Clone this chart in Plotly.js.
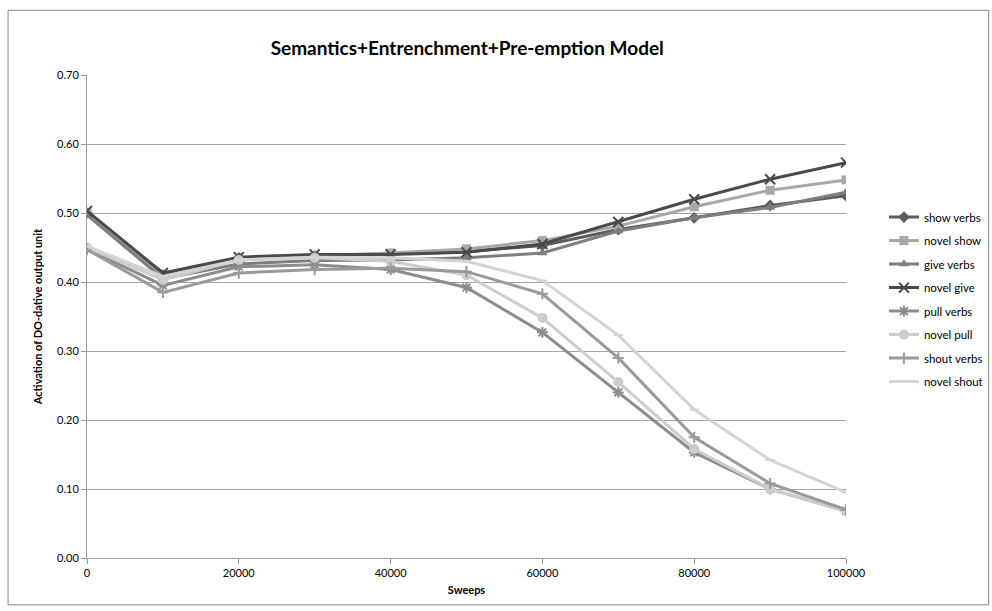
<!DOCTYPE html>
<html>
<head>
<meta charset="utf-8">
<script src="https://cdn.plot.ly/plotly-3.0.1.min.js"></script>
<style>html,body{margin:0;padding:0;background:#fff;}#chart{width:992px;height:611px;}</style>
</head>
<body>
<div id="chart"></div>
<script>
const sweeps = [0, 10000, 20000, 30000, 40000, 50000, 60000, 70000, 80000, 90000, 100000];
const showVerbs  = [0.500, 0.410, 0.435, 0.438, 0.440, 0.444, 0.453, 0.476, 0.493, 0.511, 0.525];
const novelShow  = [0.500, 0.408, 0.432, 0.438, 0.442, 0.448, 0.460, 0.481, 0.509, 0.533, 0.548];
const giveVerbs  = [0.497, 0.405, 0.426, 0.431, 0.432, 0.435, 0.442, 0.474, 0.493, 0.508, 0.530];
const novelGive  = [0.503, 0.413, 0.436, 0.440, 0.440, 0.443, 0.455, 0.487, 0.520, 0.549, 0.573];
const pullVerbs  = [0.448, 0.395, 0.422, 0.425, 0.418, 0.392, 0.327, 0.240, 0.153, 0.100, 0.068];
const novelPull  = [0.450, 0.403, 0.432, 0.435, 0.430, 0.410, 0.348, 0.255, 0.158, 0.100, 0.068];
const shoutVerbs = [0.447, 0.385, 0.413, 0.418, 0.420, 0.415, 0.383, 0.290, 0.175, 0.108, 0.070];
const novelShout = [0.452, 0.408, 0.432, 0.436, 0.435, 0.430, 0.402, 0.323, 0.215, 0.142, 0.095];
const seriesNames = ["show verbs", "novel show", "give verbs", "novel give", "pull verbs", "novel pull", "shout verbs", "novel shout"];
const yTicks = [0, 0.1, 0.2, 0.3, 0.4, 0.5, 0.6, 0.7];
const xTicks = [0, 20000, 40000, 60000, 80000, 100000];

const seriesData = [showVerbs, novelShow, giveVerbs, novelGive, pullVerbs, novelPull, shoutVerbs, novelShout];
const colors = ["#5c5c5c", "#a8a8a8", "#7e7e7e", "#4a4a4a", "#8c8c8c", "#cccccc", "#9a9a9a", "#d4d4d4"];
const symbols = ["diamond", "square", "triangle-up", "x-thin-open", "asterisk-open", "circle", "cross-thin-open", "line-ew-open"];
const sizes = [9, 9, 9, 10, 9, 10, 8, 7];

const traces = seriesData.map((ys, i) => {
  const open = symbols[i].endsWith("open");
  return {
    x: sweeps, y: ys, name: seriesNames[i], type: "scatter", mode: "lines+markers",
    legendgroup: "g" + i,
    line: {color: colors[i], width: 3},
    marker: {symbol: symbols[i], size: sizes[i], color: colors[i],
             line: {color: colors[i], width: open ? 2 : 0}}
  };
});

const layout = {
  width: 992, height: 611,
  paper_bgcolor: "#fff", plot_bgcolor: "#fff",
  margin: {l: 87, r: 146, t: 75, b: 53, autoexpand: false},
  title: {text: "Semantics+Entrenchment+Pre-emption Model", x: 0.471, xanchor: "center", y: 0.921, yanchor: "middle",
          font: {family: "Lato, 'Open Sans', sans-serif", size: 19, color: "#000", weight: "bold"}},
  font: {family: "Lato, 'Open Sans', sans-serif", size: 11, color: "#000"},
  xaxis: {range: [0, 100000], tickvals: xTicks, ticktext: xTicks.map(String),
          showgrid: false, zeroline: false, showline: true, linecolor: "#9a9a9a", linewidth: 1,
          ticks: "outside", ticklen: 5, tickcolor: "#9a9a9a",
          title: {text: "<b>Sweeps</b>", font: {size: 11}, standoff: 8}},
  yaxis: {range: [0, 0.7], tickvals: yTicks, ticktext: yTicks.map(v => v.toFixed(2)),
          showgrid: true, gridcolor: "#a6a6a6", gridwidth: 1, zeroline: false,
          showline: true, linecolor: "#9a9a9a", linewidth: 1,
          ticks: "outside", ticklen: 5, tickcolor: "#9a9a9a",
          title: {text: "<b>Activation of DO-dative output unit</b>", font: {size: 11}, standoff: 12}},
  legend: {x: 1.05, xanchor: "left", y: 0.535, yanchor: "middle", tracegroupgap: 4.5,
           font: {size: 11.5}, itemwidth: 30, bgcolor: "rgba(0,0,0,0)"},
  showlegend: true,
  shapes: [{type: "rect", xref: "paper", yref: "paper", x0: -0.104, x1: 1.188, y0: -0.097, y1: 1.134,
            line: {color: "#8a8a8a", width: 1}, fillcolor: "rgba(0,0,0,0)", layer: "below"}]
};

Plotly.newPlot("chart", traces, layout, {displayModeBar: false, staticPlot: true});
</script>
</body>
</html>
